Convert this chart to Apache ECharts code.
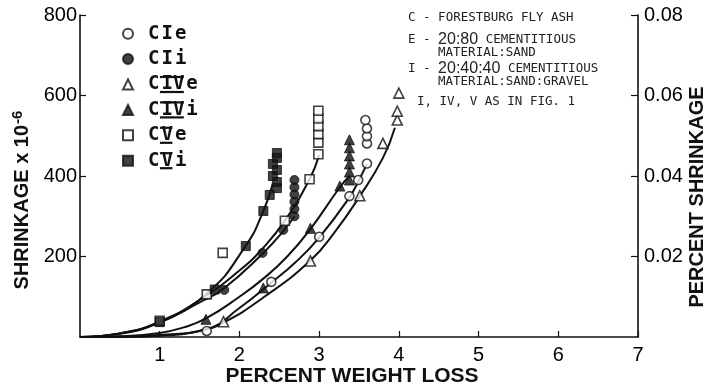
<!DOCTYPE html>
<html>
<head>
<meta charset="utf-8">
<script src="https://cdn.jsdelivr.net/npm/echarts@6/dist/echarts.min.js"></script>
<style>
  html, body { margin: 0; padding: 0; background: #fff; }
  #chart { width: 705px; height: 388px; }
</style>
</head>
<body>
<div id="chart"></div>
<script>
// Axis ticks
const xTicks = [0, 1, 2, 3, 4, 5, 6, 7];
const yTicks = [0, 200, 400, 600, 800];
const pctTicks = [0, 0.02, 0.04, 0.06, 0.08];

// Measured points: percent weight loss (x) and shrinkage x 10^-6 (y)
const cieX = [1.59, 2.40, 3.00, 3.38, 3.49, 3.60, 3.60, 3.60, 3.60, 3.58];
const cieY = [15, 137, 249, 350, 390, 431, 481, 499, 518, 539];

const ciiX = [1.81, 2.29, 2.55, 2.69, 2.69, 2.69, 2.69, 2.69, 2.69];
const ciiY = [117, 209, 266, 300, 318, 336, 354, 372, 390];

const civeX = [1.80, 2.89, 3.51, 3.80, 3.98, 3.98, 4.00];
const civeY = [38, 189, 351, 481, 539, 561, 606];

const civiX = [1.58, 2.30, 2.89, 3.26, 3.38, 3.38, 3.38, 3.38, 3.38, 3.38];
const civiY = [44, 122, 270, 375, 390, 410, 430, 450, 470, 490];

const cveX = [1.00, 1.59, 1.79, 2.57, 2.88, 2.99, 2.99, 2.99, 2.99, 2.99, 2.99];
const cveY = [40, 106, 209, 289, 392, 454, 483, 504, 524, 543, 562];

const cviX = [1.00, 1.69, 2.08, 2.30, 2.38, 2.47, 2.47, 2.42, 2.47, 2.42, 2.47, 2.47];
const cviY = [37, 118, 226, 313, 353, 370, 385, 400, 415, 430, 445, 457];

// Fitted curves
const cieFitX = [0, 0.5, 1.0, 1.59, 2.0, 2.4, 2.7, 3.0, 3.38, 3.5, 3.6];
const cieFitY = [0, 1, 5, 20, 72, 135, 185, 247, 347, 390, 430];

const ciiFitX = [0, 0.5, 1.0, 1.5, 1.8, 2.29, 2.55, 2.69];
const ciiFitY = [0, 8, 36, 86, 120, 207, 263, 300];

const civeFitX = [0, 0.5, 1.0, 1.5, 1.8, 2.3, 2.89, 3.2, 3.51, 3.8, 3.95];
const civeFitY = [0, 0, 3, 15, 36, 98, 190, 262, 350, 445, 520];

const civiFitX = [0, 0.5, 1.0, 1.3, 1.58, 2.0, 2.3, 2.6, 2.89, 3.26, 3.38];
const civiFitY = [0, 2, 10, 24, 46, 100, 145, 200, 268, 372, 400];

const cveFitX = [0, 0.5, 1.0, 1.5, 2.0, 2.3, 2.57, 2.88, 3.0];
const cveFitY = [0, 9, 38, 92, 165, 222, 289, 392, 452];

const cviFitX = [0, 0.5, 1.0, 1.59, 2.07, 2.30, 2.42];
const cviFitY = [0, 9, 38, 108, 224, 313, 382];

// Series names and the Roman numeral part of each legend label
const names = ['CIe', 'CIi', 'CIVe', 'CIVi', 'CVe', 'CVi'];
const numerals = ['I', 'I', 'IV', 'IV', 'V', 'V'];

const notes = [
  'C - FORESTBURG FLY ASH',
  'E - ', '20:80', ' CEMENTITIOUS',
  'MATERIAL:SAND',
  'I - ', '20:40:40', ' CEMENTITIOUS',
  'MATERIAL:SAND:GRAVEL',
  'I, IV, V AS IN FIG. 1'
];

const pairs = (xs, ys) => xs.map((x, i) => [x, ys[i]]);
const INK = '#111';

function pointSeries(name, xs, ys, symbol, filled) {
  return {
    name: name,
    type: 'scatter',
    data: pairs(xs, ys),
    symbol: symbol,
    symbolSize: symbol === 'triangle' ? 10 : 9,
    z: 5,
    itemStyle: filled
      ? { color: INK, borderColor: INK, borderWidth: 1 }
      : { color: '#fff', borderColor: INK, borderWidth: 1.6 }
  };
}

function curveSeries(xs, ys) {
  return {
    type: 'line',
    data: pairs(xs, ys),
    smooth: 0.5,
    showSymbol: false,
    silent: true,
    z: 2,
    lineStyle: { color: INK, width: 2 }
  };
}

const chart = echarts.init(document.getElementById('chart'), null, { renderer: 'canvas' });

const axisFont = { fontFamily: 'Liberation Sans', fontSize: 20, color: '#000' };
const monoFont = 'DejaVu Sans Mono';

// Legend geometry (legend box + its default 5px padding)
const LEG_LEFT = 117, LEG_TOP = 16, LEG_ROW = 25.4, LEG_FONT = 19;
const CHAR_W = LEG_FONT * 0.602;
const TEXT_X = LEG_LEFT + 5 + 10 + 5 + 10;

// Bars above and below the Roman numerals IV and V in the legend
const numeralBars = [];
names.forEach((n, i) => {
  if (numerals[i] === 'I') return;
  const x0 = TEXT_X + CHAR_W + 2;
  const x1 = x0 + CHAR_W * numerals[i].length + 0.5;
  const cy = LEG_TOP + 5 + LEG_ROW * (i + 0.5);
  [cy - 7.5, cy + 7.5].forEach(y => numeralBars.push({
    type: 'line', silent: true,
    shape: { x1: x0 - 0.5, y1: y, x2: x1, y2: y },
    style: { stroke: INK, lineWidth: 2.2 }
  }));
});

chart.setOption({
  backgroundColor: '#fff',
  animation: false,
  grid: { left: 80, right: 67, top: 15, bottom: 51 },
  xAxis: {
    type: 'value',
    min: xTicks[0], max: xTicks[xTicks.length - 1], interval: 1,
    axisLine: { show: true, lineStyle: { color: INK, width: 1.6 } },
    axisTick: { show: true, inside: true, length: 6, lineStyle: { color: INK, width: 1.2 } },
    axisLabel: Object.assign({ showMinLabel: false, margin: 8 }, axisFont),
    splitLine: { show: false }
  },
  yAxis: [
    {
      type: 'value',
      min: yTicks[0], max: yTicks[yTicks.length - 1], interval: 200,
      axisLine: { show: true, lineStyle: { color: INK, width: 1.6 } },
      axisTick: { show: true, inside: true, length: 6, lineStyle: { color: INK, width: 1.2 } },
      axisLabel: Object.assign({ showMinLabel: false, margin: 3 }, axisFont),
      splitLine: { show: false }
    },
    {
      type: 'value',
      position: 'right',
      min: pctTicks[0], max: pctTicks[pctTicks.length - 1], interval: 0.02,
      axisLine: { show: true, lineStyle: { color: INK, width: 1.6 } },
      axisTick: { show: true, inside: true, length: 7, lineStyle: { color: INK, width: 1.2 } },
      axisLabel: Object.assign({ showMinLabel: false, margin: 6, formatter: v => v.toFixed(2) }, axisFont),
      splitLine: { show: false }
    }
  ],
  legend: {
    orient: 'vertical',
    left: LEG_LEFT, top: LEG_TOP,
    itemWidth: 10, itemHeight: 10, itemGap: 0,
    selectedMode: false,
    data: names,
    formatter: n => {
      const i = names.indexOf(n);
      return '{a|C}{a|' + numerals[i] + '}{a|' + n.slice(-1) + '}';
    },
    textStyle: {
      color: INK, lineHeight: LEG_ROW, padding: [0, 0, 0, 10],
      rich: {
        a: { fontFamily: monoFont, fontWeight: 'bold', fontSize: LEG_FONT, color: INK, padding: [0, 2, 0, 0] }
      }
    }
  },
  graphic: numeralBars.concat([
    {
      type: 'text', x: 22, y: 200, rotation: Math.PI / 2,
      style: {
        text: '{t|SHRINKAGE x 10}{s|-6}', align: 'center', verticalAlign: 'middle',
        rich: {
          t: { fontFamily: 'Liberation Sans', fontWeight: 'bold', fontSize: 20, fill: INK },
          s: { fontFamily: 'Liberation Sans', fontWeight: 'bold', fontSize: 15, fill: INK, padding: [0, 0, 8, 1] }
        }
      }
    },
    {
      type: 'text', x: 697, y: 197, rotation: Math.PI / 2,
      style: { text: 'PERCENT SHRINKAGE', align: 'center', verticalAlign: 'middle',
        font: 'bold 20px "Liberation Sans"', fill: INK }
    },
    {
      type: 'text', x: 352, y: 376,
      style: { text: 'PERCENT WEIGHT LOSS', align: 'center', verticalAlign: 'middle',
        font: 'bold 21px "Liberation Sans"', fill: INK }
    },
    { type: 'text', x: 408, y: 18, style: { text: notes[0], verticalAlign: 'middle', font: '12.5px "DejaVu Sans Mono"', fill: '#222' } },
    {
      type: 'text', x: 408, y: 40,
      style: {
        text: '{m|' + notes[1] + '}{b|' + notes[2] + '}{m|' + notes[3] + '}', verticalAlign: 'middle',
        rich: { m: { fontFamily: monoFont, fontSize: 12.5, fill: '#222' }, b: { fontFamily: 'Liberation Sans', fontSize: 16, fill: '#222' } }
      }
    },
    { type: 'text', x: 438, y: 53, style: { text: notes[4], verticalAlign: 'middle', font: '12.5px "DejaVu Sans Mono"', fill: '#222' } },
    {
      type: 'text', x: 408, y: 69,
      style: {
        text: '{m|' + notes[5] + '}{b|' + notes[6] + '}{m|' + notes[7] + '}', verticalAlign: 'middle',
        rich: { m: { fontFamily: monoFont, fontSize: 12.5, fill: '#222' }, b: { fontFamily: 'Liberation Sans', fontSize: 16, fill: '#222' } }
      }
    },
    { type: 'text', x: 438, y: 82, style: { text: notes[8], verticalAlign: 'middle', font: '12.5px "DejaVu Sans Mono"', fill: '#222' } },
    { type: 'text', x: 417, y: 102, style: { text: notes[9], verticalAlign: 'middle', font: '12.5px "DejaVu Sans Mono"', fill: '#222' } }
  ]),
  series: [
    curveSeries(cieFitX, cieFitY),
    curveSeries(ciiFitX, ciiFitY),
    curveSeries(civeFitX, civeFitY),
    curveSeries(civiFitX, civiFitY),
    curveSeries(cveFitX, cveFitY),
    curveSeries(cviFitX, cviFitY),
    pointSeries(names[0], cieX, cieY, 'circle', false),
    pointSeries(names[1], ciiX, ciiY, 'circle', true),
    pointSeries(names[2], civeX, civeY, 'triangle', false),
    pointSeries(names[3], civiX, civiY, 'triangle', true),
    pointSeries(names[4], cveX, cveY, 'rect', false),
    pointSeries(names[5], cviX, cviY, 'rect', true)
  ]
});
</script>
</body>
</html>
